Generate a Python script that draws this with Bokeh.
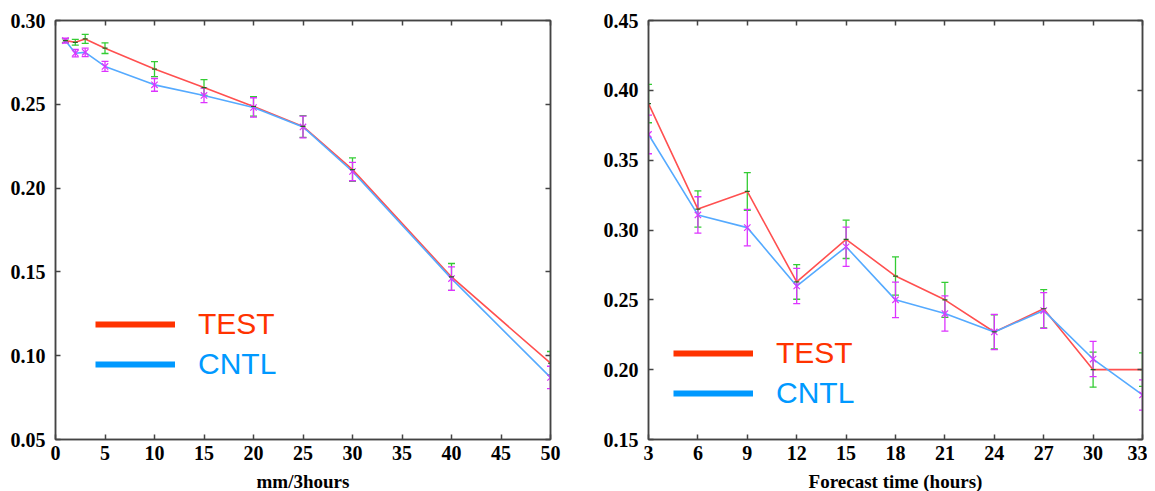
from bokeh.plotting import figure
from bokeh.models import (Range1d, LinearAxis, FixedTicker, Whisker, TeeHead,
                          ColumnDataSource, Legend, LegendItem, NumeralTickFormatter)
from bokeh.layouts import row
from bokeh.embed import file_html
from bokeh.resources import INLINE

# ---- left panel: score vs threshold (mm/3hours) ----
rain_x = [1, 2, 3, 5, 10, 15, 20, 25, 30, 40, 50]
rain_test = [0.288, 0.287, 0.289, 0.2835, 0.271, 0.260, 0.2487, 0.2368, 0.211, 0.147, 0.0955]
rain_test_err = [0.001, 0.0017, 0.0027, 0.0032, 0.0045, 0.0047, 0.0058, 0.0065, 0.007, 0.008, 0.007]
rain_cntl = [0.288, 0.2805, 0.281, 0.2726, 0.2616, 0.2553, 0.2481, 0.2365, 0.2099, 0.146, 0.087]
rain_cntl_err = [0.0015, 0.0022, 0.0025, 0.003, 0.0038, 0.0043, 0.0058, 0.0065, 0.0055, 0.007, 0.0067]
rain_xticks = [0, 5, 10, 15, 20, 25, 30, 35, 40, 45, 50]
rain_yticks = [0.05, 0.10, 0.15, 0.20, 0.25, 0.30]

# ---- right panel: score vs forecast time ----
fc_x = [3, 6, 9, 12, 15, 18, 21, 24, 27, 30, 33]
fc_test = [0.3905, 0.315, 0.3276, 0.2628, 0.2933, 0.267, 0.250, 0.227, 0.2436, 0.200, 0.200]
fc_test_err = [0.0137, 0.013, 0.0135, 0.0124, 0.0137, 0.0137, 0.0125, 0.0122, 0.0137, 0.0125, 0.012]
fc_cntl = [0.3684, 0.3108, 0.3017, 0.2599, 0.288, 0.250, 0.2402, 0.227, 0.2423, 0.2076, 0.1819]
fc_cntl_err = [0.0138, 0.013, 0.013, 0.0126, 0.014, 0.0127, 0.0126, 0.0126, 0.0128, 0.0126, 0.0108]
fc_xticks = [3, 6, 9, 12, 15, 18, 21, 24, 27, 30, 33]
fc_yticks = [0.15, 0.20, 0.25, 0.30, 0.35, 0.40, 0.45]

TEST_LINE = "#FF5050"
CNTL_LINE = "#55AAFF"
TEST_ERR = "#33CC33"
CNTL_ERR = "#DD33FF"
TEST_LEG = "#FF3300"
CNTL_LEG = "#0099FF"
AX = "#444444"
TICK_FONT = "Liberation Serif"
NAN = float("nan")


def style_axis(ax, ticks, show_labels=True):
    ax.ticker = FixedTicker(ticks=ticks)
    ax.major_tick_in = 5
    ax.major_tick_out = 0
    ax.major_tick_line_color = AX
    ax.major_tick_line_width = 1.5
    ax.minor_tick_line_color = None
    ax.axis_line_color = AX
    ax.axis_line_width = 1.5
    if show_labels:
        ax.major_label_text_font = TICK_FONT
        ax.major_label_text_font_style = "bold"
        ax.major_label_text_font_size = "20px"
        ax.major_label_text_color = "black"
        ax.axis_label_text_font = TICK_FONT
        ax.axis_label_text_font_style = "bold"
        ax.axis_label_text_font_size = "19px"
        ax.axis_label_text_color = "black"
    else:
        ax.major_label_text_color = None
        ax.major_label_text_font_size = "1px"
        ax.major_label_standoff = 0


def make_panel(xs, test, test_err, cntl, cntl_err, xticks, yticks, xr, yr,
               xlabel, fw, fh, bl, br, bt, bb, leg_x, leg_y1, leg_y2, yfmt):
    p = figure(frame_width=fw, frame_height=fh, x_range=Range1d(*xr), y_range=Range1d(*yr),
               output_backend="svg", toolbar_location=None,
               min_border_left=bl, min_border_right=br, min_border_top=bt, min_border_bottom=bb,
               background_fill_color="white", border_fill_color="white")
    p.xgrid.visible = False
    p.ygrid.visible = False
    p.outline_line_color = AX
    p.outline_line_width = 1.5

    xa = p.xaxis[0]
    ya = p.yaxis[0]
    style_axis(xa, xticks)
    style_axis(ya, yticks)
    ya.formatter = NumeralTickFormatter(format=yfmt)
    xa.axis_label = xlabel
    xa.major_label_standoff = 6
    xa.axis_label_standoff = 8
    ya.major_label_standoff = 10

    top = LinearAxis()
    style_axis(top, xticks, show_labels=False)
    p.add_layout(top, "above")
    right = LinearAxis()
    style_axis(right, yticks, show_labels=False)
    p.add_layout(right, "right")

    src = ColumnDataSource(dict(
        x=xs, test=test, cntl=cntl,
        t_up=[v + e for v, e in zip(test, test_err)],
        t_lo=[v - e for v, e in zip(test, test_err)],
        c_up=[v + e for v, e in zip(cntl, cntl_err)],
        c_lo=[v - e for v, e in zip(cntl, cntl_err)],
    ))

    for up, lo, col in (("t_up", "t_lo", TEST_ERR), ("c_up", "c_lo", CNTL_ERR)):
        w = Whisker(source=src, base="x", upper=up, lower=lo, line_color=col, line_width=1.3,
                    upper_head=TeeHead(size=7, line_color=col, line_width=1.3),
                    lower_head=TeeHead(size=7, line_color=col, line_width=1.3))
        p.add_layout(w)

    p.line("x", "test", source=src, line_color=TEST_LINE, line_width=1.6)
    p.line("x", "cntl", source=src, line_color=CNTL_LINE, line_width=1.6)
    p.scatter("x", "cntl", source=src, marker="x", size=9, line_color=CNTL_ERR, line_width=1.2)
    p.scatter("x", "test", source=src, marker="dash", size=5, line_color="#226622", line_width=1.2)

    r_t = p.line(x=[NAN, NAN], y=[NAN, NAN], line_color=TEST_LEG, line_width=6)
    r_c = p.line(x=[NAN, NAN], y=[NAN, NAN], line_color=CNTL_LEG, line_width=6)
    for r, lab, col, ly in ((r_t, "TEST", TEST_LEG, leg_y1), (r_c, "CNTL", CNTL_LEG, leg_y2)):
        leg = Legend(items=[LegendItem(label=lab, renderers=[r])], location=(leg_x, ly),
                     glyph_width=80, glyph_height=30, label_standoff=23,
                     label_text_font="Liberation Sans", label_text_font_size="30px",
                     label_text_color=col, border_line_color=None,
                     background_fill_alpha=0, padding=0, margin=0)
        p.add_layout(leg)
    return p


p1 = make_panel(rain_x, rain_test, rain_test_err, rain_cntl, rain_cntl_err,
                rain_xticks, rain_yticks, (0, 50), (0.05, 0.30), "mm/3hours",
                495, 419, 55, 40, 20, 52, 40, 98, 58, "0.00")
p2 = make_panel(fc_x, fc_test, fc_test_err, fc_cntl, fc_cntl_err,
                fc_xticks, fc_yticks, (3, 33), (0.15, 0.45), "Forecast time (hours)",
                494, 419, 58, 5, 20, 52, 25, 69, 29, "0.00")

layout = row(p1, p2)
open("out.html", "w").write(file_html(layout, INLINE))
